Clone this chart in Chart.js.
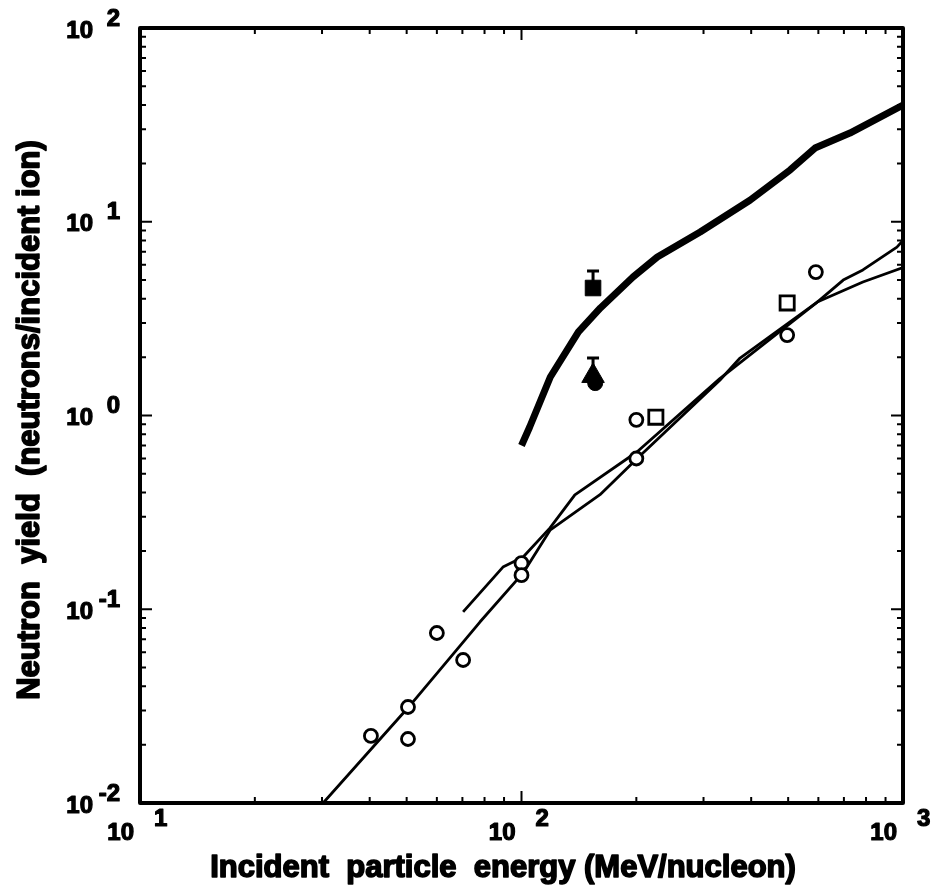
<!DOCTYPE html>
<html>
<head>
<meta charset="utf-8">
<script src="https://cdn.jsdelivr.net/npm/chart.js@4/dist/chart.umd.min.js"></script>
<style>
  html, body { margin: 0; padding: 0; background: #fff; }
  #wrap { width: 934px; height: 895px; }
</style>
</head>
<body>
<div id="wrap"><canvas id="chartYield"></canvas></div>
<script>
// thick curve (upper calculation)
const thickX = [100, 105, 119, 141, 161, 196, 227, 294, 397, 506, 588, 726, 1000];
const thickY = [0.70, 0.87, 1.58, 2.70, 3.59, 5.19, 6.58, 8.85, 12.9, 18.5, 24, 28.7, 40];

// thin curves
const thinAX = [30.2, 50.4, 61.1, 77.8, 101, 118.8, 160.6, 201, 331, 374, 596, 785, 1000];
const thinAY = [0.0100, 0.031, 0.0486, 0.0859, 0.154, 0.256, 0.39, 0.60, 1.52, 1.98, 3.85, 4.89, 5.8];
const thinBX = [70.3, 89.4, 101, 118.8, 138, 201, 331, 596, 697, 785, 964, 1000];
const thinBY = [0.097, 0.165, 0.186, 0.263, 0.389, 0.65, 1.55, 3.85, 5.0, 5.64, 7.4, 8.0];

// open circles / open squares
const circX = [40.3, 50.4, 50.4, 60.0, 70.3, 100, 100, 200, 200, 497, 591];
const circY = [0.0222, 0.0313, 0.0214, 0.0754, 0.0547, 0.173, 0.150, 0.95, 0.60, 2.60, 5.5];
const sqX = [225, 497];
const sqY = [0.98, 3.81];

// filled markers with upper error bars
const fSqX = [154], fSqY = [4.55], fSqHi = [5.57];
const fTriX = [154], fTriY = [1.60], fTriHi = [1.98];
const fDotX = [156], fDotY = [1.47];

// axis decades
const xDecades = [1, 2, 3];
const yDecades = [-2, -1, 0, 1, 2];

const pts = (xs, ys) => xs.map((x, i) => ({ x: x, y: ys[i] }));
const FONT = "bold 24px 'Liberation Sans', Arial, sans-serif";
const TITLE_FONT = "bold 31px 'Liberation Sans', Arial, sans-serif";

function heavyText(ctx, txt, x, y, w) {
    ctx.fillText(txt, x, y);
    ctx.lineWidth = w || 1.6;
    ctx.strokeText(txt, x, y);
}

const framePlugin = {
    id: "frame",
    afterDraw(chart) {
        const { ctx, chartArea: a, scales } = chart;
        const xs = scales.x, ys = scales.y;
        ctx.save();
        ctx.strokeStyle = "#000";
        ctx.fillStyle = "#000";
        ctx.lineJoin = "round";

        // error bars
        ctx.lineWidth = 3;
        const errs = [[fSqX, fSqY, fSqHi], [fTriX, fTriY, fTriHi]];
        errs.forEach(([ex, ey, eh]) => {
            ex.forEach((x, i) => {
                const px = xs.getPixelForValue(x);
                const p0 = ys.getPixelForValue(ey[i]);
                const p1 = ys.getPixelForValue(eh[i]);
                ctx.beginPath();
                ctx.moveTo(px, p0); ctx.lineTo(px, p1);
                ctx.moveTo(px - 6, p1); ctx.lineTo(px + 6, p1);
                ctx.stroke();
            });
        });

        // frame
        ctx.lineWidth = 4;
        ctx.strokeRect(a.left, a.top, a.right - a.left, a.bottom - a.top);

        // inward ticks
        ctx.lineWidth = 2;
        ctx.beginPath();
        for (let d = 1; d < 3; d++) {
            for (let m = 1; m <= 9; m++) {
                const v = m * Math.pow(10, d);
                const px = xs.getPixelForValue(v);
                const len = m === 1 ? 12 : 6;
                ctx.moveTo(px, a.bottom); ctx.lineTo(px, a.bottom - len);
                ctx.moveTo(px, a.top); ctx.lineTo(px, a.top + len);
            }
        }
        for (let d = -2; d < 2; d++) {
            for (let m = 1; m <= 9; m++) {
                const v = m * Math.pow(10, d);
                const py = ys.getPixelForValue(v);
                const len = m === 1 ? 12 : 6;
                ctx.moveTo(a.left, py); ctx.lineTo(a.left + len, py);
                ctx.moveTo(a.right, py); ctx.lineTo(a.right - len, py);
            }
        }
        ctx.stroke();

        // tick labels: 10 with superscript exponent
        ctx.font = FONT;
        ctx.textBaseline = "middle";
        xDecades.forEach(e => {
            const px = xs.getPixelForValue(Math.pow(10, e));
            ctx.textAlign = "right";
            heavyText(ctx, "10", px - 6, a.bottom + 30, 1.2);
            ctx.textAlign = "left";
            heavyText(ctx, String(e), px + 14, a.bottom + 16, 1.2);
        });
        yDecades.forEach(e => {
            const py = ys.getPixelForValue(Math.pow(10, e));
            ctx.textAlign = "right";
            heavyText(ctx, "10", a.left - 47, py + 3, 1.2);
            heavyText(ctx, String(e), a.left - 20, py - 9, 1.2);
        });

        // axis titles
        ctx.font = TITLE_FONT;
        ctx.textAlign = "center";
        heavyText(ctx, "Incident  particle  energy (MeV/nucleon)", 503, 868);
        ctx.save();
        ctx.translate(30, 420);
        ctx.rotate(-Math.PI / 2);
        heavyText(ctx, "Neutron  yield  (neutrons/incident ion)", 0, 0);
        ctx.restore();

        ctx.restore();
    },
};

function renderYield() {
    const c = document.getElementById("chartYield");
    const line = (xs, ys, w) => ({
        data: pts(xs, ys), showLine: true, borderColor: "#000", borderWidth: w,
        pointRadius: 0, tension: 0, borderJoinStyle: "round", borderCapStyle: "butt", order: 2,
    });
    const mark = (xs, ys, style, r, fill, bw) => ({
        data: pts(xs, ys), showLine: false, pointStyle: style, pointRadius: r,
        pointBackgroundColor: fill, pointBorderColor: "#000", pointBorderWidth: bw, order: 1,
    });
    new Chart(c, {
        type: "scatter",
        data: {
            datasets: [
                line(thickX, thickY, 7),
                line(thinAX, thinAY, 2.8),
                line(thinBX, thinBY, 2.8),
                mark(circX, circY, "circle", 6.5, "#fff", 2.8),
                mark(sqX, sqY, "rect", 10, "#fff", 2.8),
                mark(fSqX, fSqY, "rect", 11, "#000", 1),
                mark(fDotX, fDotY, "circle", 7.5, "#000", 1),
                mark(fTriX, fTriY, "triangle", 13, "#000", 1),
            ],
        },
        options: {
            responsive: true, maintainAspectRatio: false, animation: false,
            layout: { padding: { left: 140, right: 31, top: 28, bottom: 92 } },
            scales: {
                x: { type: "logarithmic", min: 10, max: 1000, display: false },
                y: { type: "logarithmic", min: 0.01, max: 100, display: false },
            },
            plugins: { legend: { display: false }, tooltip: { enabled: false } },
        },
        plugins: [framePlugin],
    });
}

renderYield();
</script>
</body>
</html>
